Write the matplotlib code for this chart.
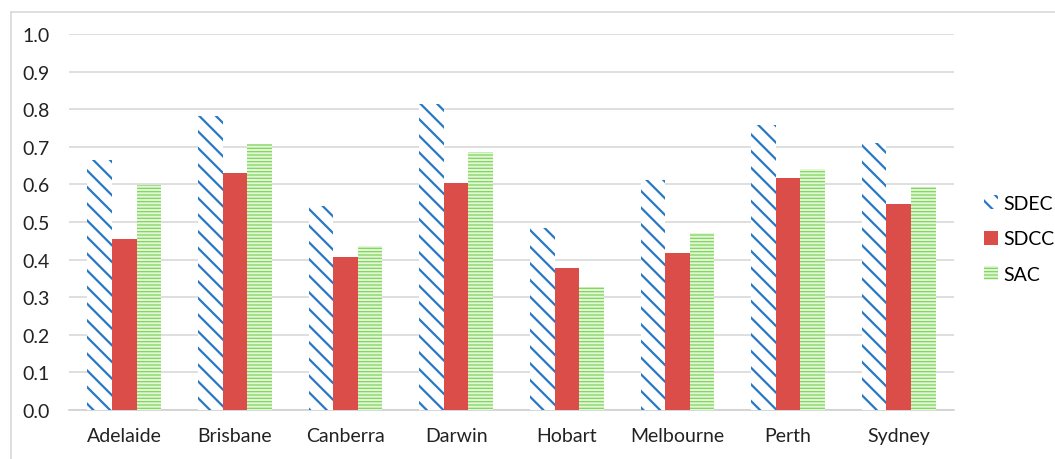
import matplotlib.pyplot as plt
import numpy as np
from matplotlib.patches import Patch

cities = ["Adelaide", "Brisbane", "Canberra", "Darwin", "Hobart", "Melbourne", "Perth", "Sydney"]
sdec = [0.664, 0.782, 0.543, 0.815, 0.485, 0.613, 0.757, 0.709]
sdcc = [0.454, 0.629, 0.406, 0.604, 0.377, 0.418, 0.617, 0.548]
sac = [0.598, 0.707, 0.435, 0.685, 0.326, 0.470, 0.642, 0.592]
yticks = [0.0, 0.1, 0.2, 0.3, 0.4, 0.5, 0.6, 0.7, 0.8, 0.9, 1.0]

plt.rcParams["font.family"] = ["Lato", "DejaVu Sans"]

BLUE = "#2878c4"
RED = "#da4d49"
GREEN = "#7dd65a"
DIAG = chr(92) * 2  # backslash hatch
HORIZ = "-" * 5
DIAG_LW = 1.6
HORIZ_LW = 0.9

fig = plt.figure(figsize=(10.55, 4.6), dpi=100)
ax = fig.add_axes([69 / 1055, 49 / 460, 885 / 1055, 376 / 460])

x = np.arange(len(cities))
w = 0.222

with plt.rc_context({"hatch.linewidth": DIAG_LW}):
    b1 = ax.bar(x - w, sdec, w, facecolor="white", edgecolor=BLUE, hatch=DIAG, linewidth=0, zorder=3)
b2 = ax.bar(x, sdcc, w, color=RED, linewidth=0, zorder=3)
with plt.rc_context({"hatch.linewidth": HORIZ_LW}):
    b3 = ax.bar(x + w, sac, w, facecolor="#e3f6d8", edgecolor=GREEN, hatch=HORIZ, linewidth=0, zorder=3)

ax.set_xlim(-0.5, len(cities) - 0.5)
ax.set_ylim(0, 1.0)
ax.set_yticks(yticks)
ax.set_yticklabels([f"{v:.1f}" for v in yticks])
ax.set_xticks(x)
ax.set_xticklabels(cities)
ax.tick_params(axis="both", length=0, labelsize=14, colors="#222222")
ax.tick_params(axis="y", pad=14)
ax.tick_params(axis="x", pad=12)
ax.yaxis.grid(True, color="#d9d9d9", linewidth=1.2, zorder=0)
ax.set_axisbelow(True)
for s in ("top", "right", "left"):
    ax.spines[s].set_visible(False)
ax.spines["bottom"].set_color("#d0d0d0")
ax.spines["bottom"].set_linewidth(1.2)

handles = [
    Patch(facecolor="white", edgecolor=BLUE, hatch=DIAG, linewidth=0),
    Patch(facecolor=RED, linewidth=0),
    Patch(facecolor="#e3f6d8", edgecolor=GREEN, hatch=HORIZ, linewidth=0),
]
leg = fig.legend(handles, ["SDEC", "SDCC", "SAC"], loc="center left", bbox_to_anchor=(984 / 1055, 220 / 460),
                 frameon=False, fontsize=14, handlelength=0.7, handleheight=0.7, handletextpad=0.3,
                 labelspacing=0.95, borderpad=0, borderaxespad=0)
for h, lw in zip(leg.legend_handles, (DIAG_LW, 1.0, HORIZ_LW)):
    if hasattr(h, "set_hatch_linewidth"):
        h.set_hatch_linewidth(lw)

# outer chart border
fig.add_artist(plt.Line2D([11 / 1055, 11 / 1055], [0, 447 / 460], transform=fig.transFigure,
                          color="#d9d9d9", linewidth=1.2))
fig.add_artist(plt.Line2D([11 / 1055, 1], [447 / 460, 447 / 460], transform=fig.transFigure,
                          color="#d9d9d9", linewidth=1.2))

fig.savefig("out.png", dpi=100)
